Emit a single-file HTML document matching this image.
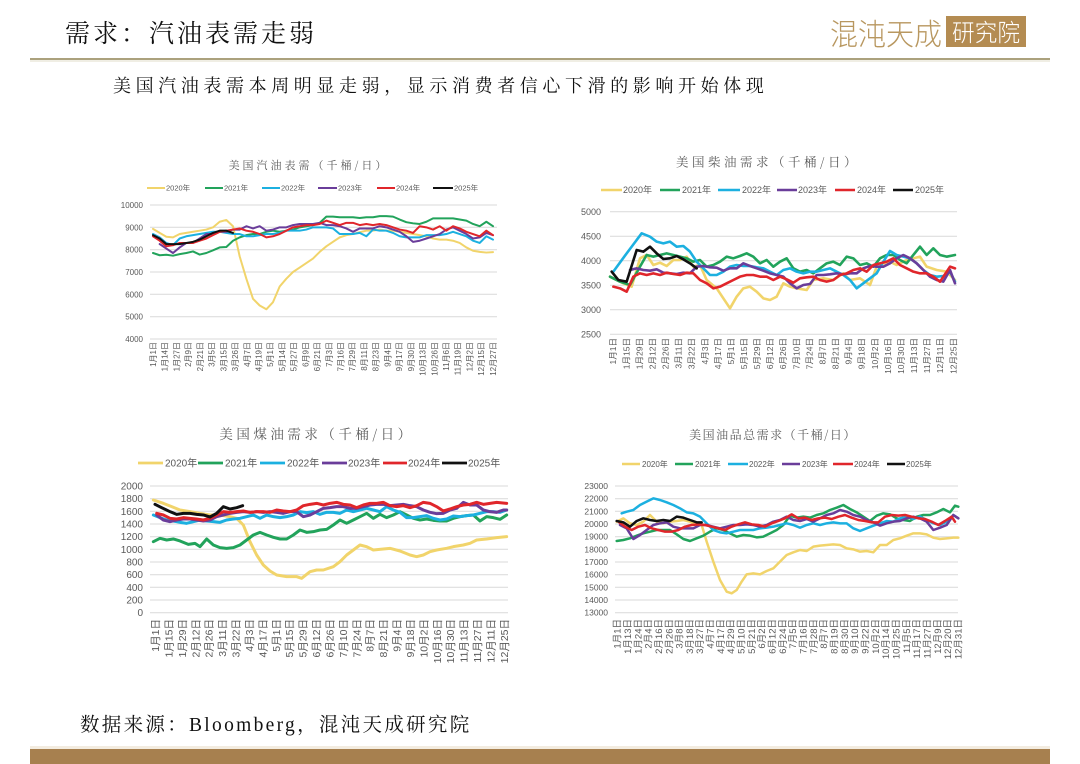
<!DOCTYPE html>
<html><head><meta charset="utf-8">
<style>
html,body{margin:0;padding:0;background:#fff;}
body{width:1080px;height:764px;overflow:hidden;}
svg{display:block;}
.s polyline{vector-effect:non-scaling-stroke;fill:none;stroke-linejoin:round;stroke-linecap:round;}
.g line{stroke:#d9d9d9;stroke-width:1;}
.yl{font-family:"Liberation Sans",sans-serif;fill:#595959;text-anchor:end;}
.xl{font-family:"Liberation Sans","Noto Sans CJK SC",sans-serif;fill:#595959;text-anchor:end;}
.lg{font-family:"Liberation Sans","Noto Sans CJK SC",sans-serif;fill:#595959;}
.tt{font-family:"Noto Serif CJK SC",serif;fill:#595959;text-anchor:middle;}
</style></head>
<body>
<svg width="1080" height="764" viewBox="0 0 1080 764" xmlns="http://www.w3.org/2000/svg">
<rect width="1080" height="764" fill="#fff"/>
<!-- header -->
<text x="65" y="42" font-family="'Noto Serif CJK SC',serif" font-size="25" letter-spacing="3" fill="#111">需求：汽油表需走弱</text>
<text x="830" y="45" font-family="'Noto Sans CJK SC',sans-serif" font-weight="300" font-size="30" fill="#b8975f" textLength="112" lengthAdjust="spacingAndGlyphs">混沌天成</text>
<rect x="946" y="16" width="80" height="31" fill="#b48c52"/>
<text x="952" y="41" font-family="'Noto Sans CJK SC',sans-serif" font-weight="300" font-size="24" fill="#fff" textLength="68" lengthAdjust="spacingAndGlyphs">研究院</text>
<line x1="30" y1="59" x2="1050" y2="59" stroke="#aba17d" stroke-width="2"/>
<line x1="30" y1="61" x2="1050" y2="61" stroke="#e2dcc8" stroke-width="1"/>
<text x="113" y="92" font-family="'Noto Serif CJK SC',serif" font-size="18" letter-spacing="4.6" fill="#111">美国汽油表需本周明显走弱，显示消费者信心下滑的影响开始体现</text>

<!-- ===== Chart 1 ===== -->
<text class="tt" x="309" y="169" font-size="11" letter-spacing="3">美国汽油表需（千桶/日）</text>
<g stroke-width="2">
<line x1="147" y1="188" x2="165" y2="188" stroke="#f1d46b"/>
<line x1="205" y1="188" x2="223" y2="188" stroke="#22a35b"/>
<line x1="262" y1="188" x2="280" y2="188" stroke="#1cb0e0"/>
<line x1="318" y1="188" x2="337" y2="188" stroke="#6a3d9a"/>
<line x1="377" y1="188" x2="395" y2="188" stroke="#e0262b"/>
<line x1="433" y1="188" x2="453" y2="188" stroke="#111"/>
</g>
<g class="lg" font-size="7.5">
<text x="166" y="190.7">2020年</text><text x="224" y="190.7">2021年</text><text x="281" y="190.7">2022年</text><text x="338" y="190.7">2023年</text><text x="396" y="190.7">2024年</text><text x="454" y="190.7">2025年</text>
</g>
<g class="g">
<line x1="150" y1="205" x2="497" y2="205"/><line x1="150" y1="227.3" x2="497" y2="227.3"/><line x1="150" y1="249.7" x2="497" y2="249.7"/><line x1="150" y1="272" x2="497" y2="272"/><line x1="150" y1="294.3" x2="497" y2="294.3"/><line x1="150" y1="316.7" x2="497" y2="316.7"/><line x1="150" y1="339" x2="497" y2="339"/>
</g>
<g class="yl" font-size="8">
<text x="143" y="208">10000</text><text x="143" y="230.3">9000</text><text x="143" y="252.7">8000</text><text x="143" y="275">7000</text><text x="143" y="297.3">6000</text><text x="143" y="319.7">5000</text><text x="143" y="342">4000</text>
</g>
<g class="xl" font-size="8">
<text transform="translate(156,342) rotate(-90)">1月1日</text>
<text transform="translate(167.7,342) rotate(-90)">1月14日</text>
<text transform="translate(179.4,342) rotate(-90)">1月27日</text>
<text transform="translate(191.2,342) rotate(-90)">2月9日</text>
<text transform="translate(202.9,342) rotate(-90)">2月21日</text>
<text transform="translate(214.6,342) rotate(-90)">3月5日</text>
<text transform="translate(226.3,342) rotate(-90)">3月15日</text>
<text transform="translate(238,342) rotate(-90)">3月26日</text>
<text transform="translate(249.8,342) rotate(-90)">4月7日</text>
<text transform="translate(261.5,342) rotate(-90)">4月19日</text>
<text transform="translate(273.2,342) rotate(-90)">5月1日</text>
<text transform="translate(284.9,342) rotate(-90)">5月14日</text>
<text transform="translate(296.6,342) rotate(-90)">5月27日</text>
<text transform="translate(308.4,342) rotate(-90)">6月9日</text>
<text transform="translate(320.1,342) rotate(-90)">6月21日</text>
<text transform="translate(331.8,342) rotate(-90)">7月3日</text>
<text transform="translate(343.5,342) rotate(-90)">7月16日</text>
<text transform="translate(355.2,342) rotate(-90)">7月29日</text>
<text transform="translate(367,342) rotate(-90)">8月11日</text>
<text transform="translate(378.7,342) rotate(-90)">8月23日</text>
<text transform="translate(390.4,342) rotate(-90)">9月4日</text>
<text transform="translate(402.1,342) rotate(-90)">9月17日</text>
<text transform="translate(413.8,342) rotate(-90)">9月30日</text>
<text transform="translate(425.6,342) rotate(-90)">10月13日</text>
<text transform="translate(437.3,342) rotate(-90)">10月26日</text>
<text transform="translate(449,342) rotate(-90)">11月6日</text>
<text transform="translate(460.7,342) rotate(-90)">11月19日</text>
<text transform="translate(472.4,342) rotate(-90)">12月2日</text>
<text transform="translate(484.2,342) rotate(-90)">12月15日</text>
<text transform="translate(495.9,342) rotate(-90)">12月27日</text>
</g>
<g class="s" transform="translate(153,428.3) scale(6.667,-0.02233)" stroke-width="2">
<polyline stroke="#f1d46b" points="0,8930 1,8750 2,8580 3,8550 4,8700 5,8750 6,8800 7,8850 8,8900 9,9000 10,9250 11,9330 12,9050 13,7700 14,6700 15,5800 16,5500 17,5330 18,5650 19,6350 20,6700 21,7000 22,7200 23,7400 24,7600 25,7900 26,8150 27,8350 28,8550 29,8650 30,8700 31,8780 32,8850 33,8850 34,8900 35,8850 36,8850 37,8800 38,8750 39,8700 40,8650 41,8600 42,8500 43,8450 44,8450 45,8400 46,8300 47,8100 48,7950 49,7900 50,7870 51,7890"/>
<polyline stroke="#22a35b" points="0,7850 1,7750 2,7770 3,7730 4,7800 5,7850 6,7920 7,7780 8,7850 9,7970 10,8100 11,8120 12,8400 13,8550 14,8650 15,8700 16,8700 17,8800 18,8850 19,8800 20,8850 21,8900 22,9000 23,9050 24,9100 25,9200 26,9480 27,9480 28,9450 29,9450 30,9450 31,9420 32,9450 33,9450 34,9500 35,9500 36,9480 37,9350 38,9230 39,9180 40,9150 41,9250 42,9400 43,9400 44,9400 45,9400 46,9350 47,9300 48,9150 49,9050 50,9250 51,9050"/>
<polyline stroke="#1cb0e0" points="0,8700 1,8550 2,8300 3,8200 4,8500 5,8600 6,8650 7,8700 8,8750 9,8800 10,8800 11,8750 12,8700 13,8700 14,8600 15,8600 16,8650 17,8700 18,8700 19,8750 20,8850 21,8850 22,8850 23,8900 24,9000 25,9000 26,9000 27,8950 28,8700 29,8700 30,8700 31,8750 32,8600 33,8900 34,8850 35,8850 36,8750 37,8600 38,8550 39,8550 40,8550 41,8650 42,8650 43,8650 44,8700 45,8800 46,8700 47,8600 48,8400 49,8300 50,8600 51,8450"/>
<polyline stroke="#6a3d9a" points="1,8250 2,8050 3,7850 4,8100 5,8300 6,8300 7,8500 8,8700 9,8700 10,8800 11,8800 12,8900 13,8900 14,9050 15,8950 16,9050 17,8850 18,8900 19,9000 20,9000 21,9100 22,9150 23,9150 24,9150 25,9200 26,9100 27,9100 28,9050 29,8950 30,8800 31,8950 32,8950 33,8950 34,9050 35,9000 36,8900 37,8800 38,8600 39,8350 40,8400 41,8500 42,8600 43,8700 44,8900 45,9000 46,8850 47,8700 48,8500 49,8550 50,8750 51,8650"/>
<polyline stroke="#e0262b" points="0,8600 1,8400 2,8150 3,8200 4,8300 5,8300 6,8300 7,8400 8,8500 9,8650 10,8800 11,8850 12,8900 13,8950 14,8850 15,8800 16,8700 17,8550 18,8600 19,8700 20,8850 21,9000 22,9050 23,9100 24,9100 25,9150 26,9300 27,9200 28,9100 29,9200 30,9200 31,9100 32,9150 33,9100 34,9150 35,9100 36,9000 37,8900 38,8850 39,8750 40,9050 41,9000 42,8900 43,9050 44,8850 45,9050 46,8950 47,8800 48,8700 49,8600 50,8850 51,8650"/>
<polyline stroke="#111" points="0,8650 1,8500 2,8250 3,8250 4,8250 5,8300 6,8350 7,8450 8,8600 9,8750 10,8850 11,8850 12,8750"/>
</g>

<!-- ===== Chart 2 ===== -->
<text class="tt" x="768" y="166.5" font-size="12.5" letter-spacing="3.5">美国柴油需求（千桶/日）</text>
<g stroke-width="2.5">
<line x1="601" y1="190" x2="622" y2="190" stroke="#f1d46b"/>
<line x1="660" y1="190" x2="680" y2="190" stroke="#22a35b"/>
<line x1="718" y1="190" x2="740" y2="190" stroke="#1cb0e0"/>
<line x1="777" y1="190" x2="797" y2="190" stroke="#6a3d9a"/>
<line x1="835" y1="190" x2="855" y2="190" stroke="#e0262b"/>
<line x1="893" y1="190" x2="913" y2="190" stroke="#111"/>
</g>
<g class="lg" font-size="9">
<text x="623" y="193.2">2020年</text><text x="682" y="193.2">2021年</text><text x="742" y="193.2">2022年</text><text x="798" y="193.2">2023年</text><text x="857" y="193.2">2024年</text><text x="915" y="193.2">2025年</text>
</g>
<g class="g">
<line x1="610" y1="211.7" x2="957" y2="211.7"/><line x1="610" y1="236.2" x2="957" y2="236.2"/><line x1="610" y1="260.7" x2="957" y2="260.7"/><line x1="610" y1="285.3" x2="957" y2="285.3"/><line x1="610" y1="309.8" x2="957" y2="309.8"/><line x1="610" y1="334.3" x2="957" y2="334.3"/>
</g>
<g class="yl" font-size="9">
<text x="601" y="215">5000</text><text x="601" y="239.5">4500</text><text x="601" y="264">4000</text><text x="601" y="288.6">3500</text><text x="601" y="313.1">3000</text><text x="601" y="337.6">2500</text>
</g>
<g class="xl" font-size="8.5">
<text transform="translate(616.2,338) rotate(-90)">1月1日</text>
<text transform="translate(629.3,338) rotate(-90)">1月15日</text>
<text transform="translate(642.4,338) rotate(-90)">1月29日</text>
<text transform="translate(655.4,338) rotate(-90)">2月12日</text>
<text transform="translate(668.5,338) rotate(-90)">2月26日</text>
<text transform="translate(681.6,338) rotate(-90)">3月11日</text>
<text transform="translate(694.7,338) rotate(-90)">3月22日</text>
<text transform="translate(707.8,338) rotate(-90)">4月3日</text>
<text transform="translate(720.8,338) rotate(-90)">4月17日</text>
<text transform="translate(733.9,338) rotate(-90)">5月1日</text>
<text transform="translate(747,338) rotate(-90)">5月15日</text>
<text transform="translate(760.1,338) rotate(-90)">5月29日</text>
<text transform="translate(773.2,338) rotate(-90)">6月12日</text>
<text transform="translate(786.2,338) rotate(-90)">6月26日</text>
<text transform="translate(799.3,338) rotate(-90)">7月10日</text>
<text transform="translate(812.4,338) rotate(-90)">7月24日</text>
<text transform="translate(825.5,338) rotate(-90)">8月7日</text>
<text transform="translate(838.6,338) rotate(-90)">8月21日</text>
<text transform="translate(851.6,338) rotate(-90)">9月4日</text>
<text transform="translate(864.7,338) rotate(-90)">9月18日</text>
<text transform="translate(877.8,338) rotate(-90)">10月2日</text>
<text transform="translate(890.9,338) rotate(-90)">10月16日</text>
<text transform="translate(904,338) rotate(-90)">10月30日</text>
<text transform="translate(917,338) rotate(-90)">11月13日</text>
<text transform="translate(930.1,338) rotate(-90)">11月27日</text>
<text transform="translate(943.2,338) rotate(-90)">12月11日</text>
<text transform="translate(956.3,338) rotate(-90)">12月25日</text>
</g>
<g class="s" transform="translate(560,140) scale(0.33333)" stroke-width="2.6">
<polyline stroke="#f1d46b" points="150,410 190,430 215,440 240,355 260,345 280,375 300,368 320,378 340,360 360,360 380,350 400,380 420,375 440,420 470,445 490,475 510,505 530,470 550,445 570,440 590,455 610,475 630,480 650,470 670,430 690,440 710,445 740,450 760,420 790,415 820,420 850,400 870,420 900,415 930,435 950,380 970,370 990,365 1010,375 1040,360 1060,355 1080,350 1100,380 1130,390 1160,395 1185,420"/>
<polyline stroke="#22a35b" points="150,410 180,425 210,435 240,380 260,345 280,350 300,345 320,340 340,345 360,350 380,355 400,365 420,360 440,380 460,375 480,365 500,350 520,355 540,348 560,340 580,350 600,370 620,360 640,380 660,365 680,355 700,385 720,395 740,390 760,400 780,385 800,370 820,365 840,375 860,350 880,355 900,375 920,370 940,380 960,355 980,345 1000,345 1020,360 1040,370 1060,345 1080,320 1100,345 1120,325 1140,345 1160,350 1185,345"/>
<polyline stroke="#1cb0e0" points="160,395 200,340 245,280 270,290 290,305 310,310 330,305 350,320 370,318 390,335 410,365 430,385 450,405 470,405 490,395 510,380 530,375 550,378 570,378 590,382 610,385 630,395 650,405 670,390 690,385 710,395 730,400 750,395 770,395 790,390 810,385 830,395 850,405 870,420 890,445 910,430 930,415 950,400 970,365 990,333 1010,345 1030,350 1050,355 1070,370 1090,390 1110,405 1130,410 1150,408 1170,395 1185,425"/>
<polyline stroke="#6a3d9a" points="210,390 230,385 250,390 270,392 290,388 310,398 330,400 350,402 370,398 390,400 410,380 430,378 450,382 470,383 490,392 510,385 530,385 550,370 570,378 590,385 610,392 630,400 650,405 670,410 690,430 710,445 730,435 750,432 770,405 790,405 810,403 830,400 850,403 870,400 890,400 910,385 930,378 950,380 970,380 990,370 1010,355 1030,345 1050,355 1070,370 1090,390 1110,410 1130,420 1150,425 1170,390 1185,430"/>
<polyline stroke="#e0262b" points="160,440 180,445 200,455 220,410 240,400 260,405 280,400 300,405 320,398 340,402 360,405 380,398 400,400 420,420 440,430 460,445 480,440 500,430 520,420 540,410 560,405 580,405 600,410 620,410 640,420 660,410 680,418 700,428 720,415 740,412 760,410 780,420 800,425 820,420 840,405 860,400 880,390 900,385 920,395 940,375 960,370 980,365 1000,355 1020,375 1040,385 1060,395 1080,400 1100,400 1120,410 1140,425 1160,395 1170,380 1185,385"/>
<polyline stroke="#111" points="155,395 175,420 200,425 230,330 250,335 270,320 290,340 310,357 330,355 350,348 370,358 390,370 410,385"/>
</g>

<!-- ===== Chart 3 ===== -->
<text class="tt" x="317" y="439" font-size="13.5" letter-spacing="3.5">美国煤油需求（千桶/日）</text>
<g stroke-width="2.8">
<line x1="138" y1="463" x2="163" y2="463" stroke="#f1d46b"/>
<line x1="198" y1="463" x2="223" y2="463" stroke="#22a35b"/>
<line x1="260" y1="463" x2="285" y2="463" stroke="#1cb0e0"/>
<line x1="322" y1="463" x2="347" y2="463" stroke="#6a3d9a"/>
<line x1="383" y1="463" x2="407" y2="463" stroke="#e0262b"/>
<line x1="442" y1="463" x2="467" y2="463" stroke="#111"/>
</g>
<g class="lg" font-size="10">
<text x="165" y="466.5">2020年</text><text x="225" y="466.5">2021年</text><text x="287" y="466.5">2022年</text><text x="348" y="466.5">2023年</text><text x="408" y="466.5">2024年</text><text x="468" y="466.5">2025年</text>
</g>
<g class="g">
<line x1="150" y1="486" x2="508" y2="486"/><line x1="150" y1="498.7" x2="508" y2="498.7"/><line x1="150" y1="511.3" x2="508" y2="511.3"/><line x1="150" y1="524" x2="508" y2="524"/><line x1="150" y1="536.7" x2="508" y2="536.7"/><line x1="150" y1="549.3" x2="508" y2="549.3"/><line x1="150" y1="562" x2="508" y2="562"/><line x1="150" y1="574.7" x2="508" y2="574.7"/><line x1="150" y1="587.3" x2="508" y2="587.3"/><line x1="150" y1="600" x2="508" y2="600"/><line x1="150" y1="612.7" x2="508" y2="612.7"/>
</g>
<g class="yl" font-size="10">
<text x="143" y="489.5">2000</text><text x="143" y="502.2">1800</text><text x="143" y="514.8">1600</text><text x="143" y="527.5">1400</text><text x="143" y="540.2">1200</text><text x="143" y="552.8">1000</text><text x="143" y="565.5">800</text><text x="143" y="578.2">600</text><text x="143" y="590.8">400</text><text x="143" y="603.5">200</text><text x="143" y="616.2">0</text>
</g>
<g class="xl" font-size="10.5">
<text transform="translate(159,619) rotate(-90)">1月1日</text>
<text transform="translate(172.4,619) rotate(-90)">1月15日</text>
<text transform="translate(185.8,619) rotate(-90)">1月29日</text>
<text transform="translate(199.3,619) rotate(-90)">2月12日</text>
<text transform="translate(212.7,619) rotate(-90)">2月26日</text>
<text transform="translate(226.1,619) rotate(-90)">3月11日</text>
<text transform="translate(239.5,619) rotate(-90)">3月22日</text>
<text transform="translate(252.9,619) rotate(-90)">4月3日</text>
<text transform="translate(266.4,619) rotate(-90)">4月17日</text>
<text transform="translate(279.8,619) rotate(-90)">5月1日</text>
<text transform="translate(293.2,619) rotate(-90)">5月15日</text>
<text transform="translate(306.6,619) rotate(-90)">5月29日</text>
<text transform="translate(320,619) rotate(-90)">6月12日</text>
<text transform="translate(333.5,619) rotate(-90)">6月26日</text>
<text transform="translate(346.9,619) rotate(-90)">7月10日</text>
<text transform="translate(360.3,619) rotate(-90)">7月24日</text>
<text transform="translate(373.7,619) rotate(-90)">8月7日</text>
<text transform="translate(387.1,619) rotate(-90)">8月21日</text>
<text transform="translate(400.6,619) rotate(-90)">9月4日</text>
<text transform="translate(414,619) rotate(-90)">9月18日</text>
<text transform="translate(427.4,619) rotate(-90)">10月2日</text>
<text transform="translate(440.8,619) rotate(-90)">10月16日</text>
<text transform="translate(454.2,619) rotate(-90)">10月30日</text>
<text transform="translate(467.7,619) rotate(-90)">11月13日</text>
<text transform="translate(481.1,619) rotate(-90)">11月27日</text>
<text transform="translate(494.5,619) rotate(-90)">12月11日</text>
<text transform="translate(507.9,619) rotate(-90)">12月25日</text>
</g>
<g class="s" transform="translate(100,415) scale(0.33333)" stroke-width="3">
<polyline stroke="#f1d46b" points="160,255 190,265 215,275 240,285 270,290 300,295 330,300 360,300 390,305 410,310 430,330 450,380 470,420 490,450 510,468 530,480 560,485 590,485 605,490 630,470 650,465 670,465 700,455 720,440 740,420 760,405 780,390 800,395 820,405 850,402 870,400 900,408 930,420 950,425 970,420 990,410 1010,405 1040,400 1060,395 1090,390 1110,385 1130,375 1160,372 1190,368 1220,365"/>
<polyline stroke="#22a35b" points="160,380 180,370 200,375 220,372 240,378 265,388 285,385 300,395 320,372 340,390 360,398 380,400 400,398 420,390 440,375 460,360 480,352 500,360 520,367 540,372 560,372 580,360 600,345 620,352 640,350 660,345 680,343 700,330 720,315 740,325 760,315 780,305 800,295 820,310 840,298 860,308 880,300 900,290 920,300 940,310 960,315 980,312 1000,316 1020,318 1040,318 1060,310 1080,305 1100,302 1120,300 1140,318 1160,305 1180,308 1200,313 1220,300"/>
<polyline stroke="#1cb0e0" points="160,300 180,308 200,315 220,318 240,322 260,325 280,320 300,315 320,318 340,320 360,322 380,315 400,312 420,310 440,305 460,300 480,310 500,300 520,305 540,308 560,305 580,300 600,290 620,293 640,290 660,298 680,292 700,292 720,295 740,285 760,290 780,285 800,280 820,285 840,290 860,275 880,285 900,292 920,308 940,308 960,305 980,302 1000,310 1020,315 1040,312 1060,303 1080,305 1100,302 1120,300 1140,295 1160,290 1180,290 1200,292 1220,285"/>
<polyline stroke="#6a3d9a" points="170,300 190,315 210,320 230,315 250,312 270,312 290,315 310,318 330,315 350,305 370,300 390,295 410,292 430,290 450,292 470,290 490,292 510,290 530,292 550,295 570,290 590,290 610,305 630,300 650,290 670,280 690,278 710,275 730,275 750,280 770,280 790,275 810,270 830,268 850,268 870,272 890,270 910,268 930,272 950,275 970,285 990,292 1010,296 1030,295 1050,285 1070,280 1090,262 1110,270 1130,270 1150,285 1170,290 1190,292 1210,285 1220,285"/>
<polyline stroke="#e0262b" points="170,295 190,300 210,310 230,312 250,308 270,310 290,312 310,315 330,310 350,300 370,290 390,292 410,290 430,288 450,292 470,290 490,290 510,292 530,285 550,288 570,290 590,285 610,272 630,268 650,265 670,270 690,265 710,262 730,268 750,270 770,278 790,270 810,265 830,265 850,262 870,272 890,275 910,272 930,278 950,272 970,262 990,265 1010,275 1030,288 1050,282 1070,275 1090,270 1110,268 1130,262 1150,268 1170,265 1190,262 1220,265"/>
<polyline stroke="#111" points="165,268 185,278 210,290 230,298 250,295 270,295 290,298 310,300 330,306 350,295 370,275 390,282 410,278 428,272"/>
</g>

<!-- ===== Chart 4 ===== -->
<text class="tt" x="773" y="439" font-size="12" letter-spacing="1.5">美国油品总需求（千桶/日）</text>
<g stroke-width="2.5">
<line x1="622" y1="464" x2="640" y2="464" stroke="#f1d46b"/>
<line x1="675" y1="464" x2="693" y2="464" stroke="#22a35b"/>
<line x1="728" y1="464" x2="748" y2="464" stroke="#1cb0e0"/>
<line x1="782" y1="464" x2="800" y2="464" stroke="#6a3d9a"/>
<line x1="833" y1="464" x2="853" y2="464" stroke="#e0262b"/>
<line x1="887" y1="464" x2="905" y2="464" stroke="#111"/>
</g>
<g class="lg" font-size="8">
<text x="642" y="466.8">2020年</text><text x="695" y="466.8">2021年</text><text x="749" y="466.8">2022年</text><text x="802" y="466.8">2023年</text><text x="854" y="466.8">2024年</text><text x="906" y="466.8">2025年</text>
</g>
<g class="g">
<line x1="615" y1="486" x2="958" y2="486"/><line x1="615" y1="498.7" x2="958" y2="498.7"/><line x1="615" y1="511.3" x2="958" y2="511.3"/><line x1="615" y1="524" x2="958" y2="524"/><line x1="615" y1="536.7" x2="958" y2="536.7"/><line x1="615" y1="549.3" x2="958" y2="549.3"/><line x1="615" y1="562" x2="958" y2="562"/><line x1="615" y1="574.7" x2="958" y2="574.7"/><line x1="615" y1="587.3" x2="958" y2="587.3"/><line x1="615" y1="600" x2="958" y2="600"/><line x1="615" y1="612.7" x2="958" y2="612.7"/>
</g>
<g class="yl" font-size="8.5">
<text x="608" y="489">23000</text><text x="608" y="501.7">22000</text><text x="608" y="514.3">21000</text><text x="608" y="527">20000</text><text x="608" y="539.7">19000</text><text x="608" y="552.3">18000</text><text x="608" y="565">17000</text><text x="608" y="577.7">16000</text><text x="608" y="590.3">15000</text><text x="608" y="603">14000</text><text x="608" y="615.7">13000</text>
</g>
<g class="xl" font-size="9.5">
<text transform="translate(620.6,619) rotate(-90)">1月1日</text>
<text transform="translate(630.9,619) rotate(-90)">1月13日</text>
<text transform="translate(641.3,619) rotate(-90)">1月24日</text>
<text transform="translate(651.6,619) rotate(-90)">2月4日</text>
<text transform="translate(661.9,619) rotate(-90)">2月16日</text>
<text transform="translate(672.3,619) rotate(-90)">2月26日</text>
<text transform="translate(682.6,619) rotate(-90)">3月8日</text>
<text transform="translate(692.9,619) rotate(-90)">3月18日</text>
<text transform="translate(703.2,619) rotate(-90)">3月27日</text>
<text transform="translate(713.6,619) rotate(-90)">4月7日</text>
<text transform="translate(723.9,619) rotate(-90)">4月17日</text>
<text transform="translate(734.2,619) rotate(-90)">4月29日</text>
<text transform="translate(744.6,619) rotate(-90)">5月10日</text>
<text transform="translate(754.9,619) rotate(-90)">5月21日</text>
<text transform="translate(765.2,619) rotate(-90)">6月2日</text>
<text transform="translate(775.6,619) rotate(-90)">6月12日</text>
<text transform="translate(785.9,619) rotate(-90)">6月24日</text>
<text transform="translate(796.2,619) rotate(-90)">7月5日</text>
<text transform="translate(806.6,619) rotate(-90)">7月16日</text>
<text transform="translate(816.9,619) rotate(-90)">7月28日</text>
<text transform="translate(827.2,619) rotate(-90)">8月7日</text>
<text transform="translate(837.6,619) rotate(-90)">8月19日</text>
<text transform="translate(847.9,619) rotate(-90)">8月30日</text>
<text transform="translate(858.2,619) rotate(-90)">9月10日</text>
<text transform="translate(868.6,619) rotate(-90)">9月22日</text>
<text transform="translate(878.9,619) rotate(-90)">10月2日</text>
<text transform="translate(889.2,619) rotate(-90)">10月14日</text>
<text transform="translate(899.6,619) rotate(-90)">10月25日</text>
<text transform="translate(909.9,619) rotate(-90)">11月5日</text>
<text transform="translate(920.2,619) rotate(-90)">11月17日</text>
<text transform="translate(930.6,619) rotate(-90)">11月27日</text>
<text transform="translate(940.9,619) rotate(-90)">12月9日</text>
<text transform="translate(951.2,619) rotate(-90)">12月20日</text>
<text transform="translate(961.6,619) rotate(-90)">12月31日</text>
</g>
<g class="s" transform="translate(560,415) scale(0.33333)" stroke-width="2.5">
<polyline stroke="#f1d46b" points="170,320 190,310 210,325 230,330 250,320 270,300 290,320 310,325 330,320 350,318 370,315 390,320 410,328 425,330 440,380 460,440 480,495 500,530 515,535 530,525 545,500 560,478 580,475 600,478 620,468 640,460 660,440 680,420 700,412 720,405 740,408 760,395 780,392 800,390 820,388 840,390 860,400 880,403 900,410 920,408 940,412 960,390 980,390 1000,375 1020,370 1040,362 1060,355 1080,355 1100,358 1120,368 1140,372 1160,370 1180,368 1195,368"/>
<polyline stroke="#22a35b" points="170,378 190,375 210,370 230,362 250,355 270,350 290,345 310,345 330,345 350,358 370,372 390,378 410,370 430,362 450,350 470,340 490,345 510,355 530,365 550,360 570,362 590,367 610,365 630,355 650,345 670,330 690,302 710,308 730,305 750,308 770,300 790,295 810,285 830,278 850,270 870,282 890,292 910,305 930,318 950,302 970,295 990,298 1010,310 1030,315 1050,318 1070,305 1090,300 1110,300 1130,292 1150,282 1170,292 1185,272 1195,275"/>
<polyline stroke="#1cb0e0" points="185,295 200,290 220,285 240,270 260,260 280,250 300,255 320,262 340,270 360,280 380,292 400,295 420,305 440,325 460,345 480,352 500,355 520,350 540,345 560,345 580,345 600,340 620,338 640,335 660,330 680,325 700,330 720,338 740,330 760,325 780,330 800,325 820,322 840,325 860,325 880,340 900,348 920,340 940,332 960,325 980,318 1000,320 1020,310 1040,305 1060,312 1080,305 1100,315 1120,325 1140,330 1160,320 1180,300 1195,310"/>
<polyline stroke="#6a3d9a" points="180,330 200,340 220,372 240,360 260,345 280,330 300,325 320,322 340,335 360,340 380,340 400,340 420,330 440,330 460,335 480,340 500,335 520,330 540,330 560,328 580,330 600,335 620,330 640,320 660,315 680,305 700,315 720,318 740,312 760,320 780,310 800,300 820,295 840,285 860,290 880,300 900,305 920,315 940,322 960,332 980,325 1000,320 1020,318 1040,310 1060,305 1080,310 1100,320 1120,345 1140,338 1160,330 1180,300 1195,310"/>
<polyline stroke="#e0262b" points="175,320 195,335 215,345 235,335 255,330 275,340 295,345 315,350 335,350 355,345 375,335 395,330 415,328 435,330 455,335 475,340 495,345 515,335 535,328 555,322 575,328 595,330 615,335 635,325 655,318 675,310 695,298 715,310 735,308 755,315 775,310 795,308 815,312 835,305 855,300 875,308 895,315 915,318 935,322 955,322 975,305 995,300 1015,302 1035,300 1055,305 1075,310 1095,312 1115,320 1135,330 1155,318 1175,305 1185,320"/>
<polyline stroke="#111" points="170,318 190,322 210,335 230,318 250,310 270,315 290,318 310,315 330,318 350,305 370,308 390,315 410,322 425,322"/>
</g>

<!-- footer -->
<text x="80" y="731" font-family="'Liberation Serif','Noto Serif CJK SC',serif" font-size="19.5" letter-spacing="2.3" fill="#111">数据来源：Bloomberg，混沌天成研究院</text>
<rect x="30" y="746" width="1020" height="3" fill="#f3ece0"/>
<rect x="30" y="749" width="1020" height="15" fill="#a7804f"/>
</svg>
</body></html>
